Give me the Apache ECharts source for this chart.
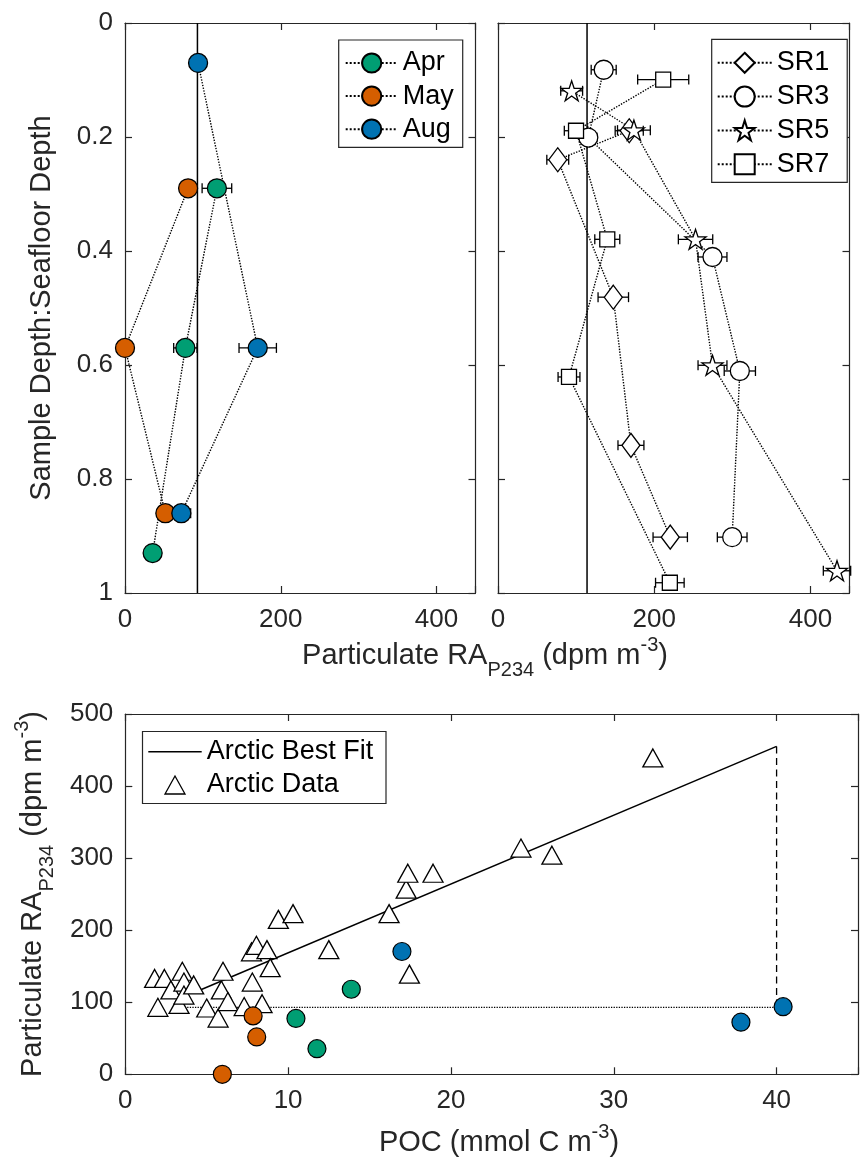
<!DOCTYPE html>
<html>
<head>
<meta charset="utf-8">
<script src="https://cdn.jsdelivr.net/npm/echarts@6/dist/echarts.min.js"></script>
<style>
  html, body { margin: 0; padding: 0; background: #fff; }
  #chart { width: 861px; height: 1159px; }
</style>
</head>
<body>
<div id="chart"></div>
<script>
// ---- Monthly profiles: depth ratio, particulate RA (dpm m^-3), its uncertainty, and POC ----
const aprDepth = [0.29, 0.57, 0.93];
const aprRA    = [118, 77.5, 35.5];
const aprErr   = [19, 15, 0];
const aprPOC   = [13.88, 10.48, 11.77];

const mayDepth = [0.29, 0.57, 0.86];
const mayRA    = [81, 0, 51.8];
const mayErr   = [0, 0, 0];
const mayPOC   = [7.85, 5.96, 8.07];

const augDepth = [0.07, 0.57, 0.86];
const augRA    = [93.8, 170.4, 72.3];
const augErr   = [5, 24, 12];
const augPOC   = [40.4, 16.99, 37.81];

// ---- Station profiles ----
const sr1Depth = [0.189, 0.240, 0.481, 0.741, 0.902];
const sr1RA    = [168, 76.5, 147.6, 170.2, 220.5];
const sr1Err   = [18, 14, 19.5, 16.6, 22];

const sr3Depth = [0.082, 0.201, 0.4105, 0.6105, 0.902];
const sr3RA    = [135.3, 115.6, 274.6, 309.6, 299.8];
const sr3Err   = [16, 11, 18.5, 20, 19];

const sr5Depth = [0.119, 0.188, 0.3795, 0.6005, 0.961];
const sr5RA    = [94.3, 174, 252.9, 274.6, 434];
const sr5Err   = [14, 21, 22, 18.5, 17.5];

const sr7Depth = [0.0993, 0.189, 0.3795, 0.621, 0.982];
const sr7RA    = [211.5, 99.9, 139.9, 90.9, 220];
const sr7Err   = [32.7, 15, 16, 14, 18.3];

// Reference levels
const refMonthRA = 93;     // vertical line, monthly panel
const refStationRA = 114;  // vertical line, station panel
const depthSpan = [0, 1];

// ---- Arctic compilation: POC (mmol C m^-3) vs particulate RA ----
const arcticPOC = [1.8, 2.4, 2.0, 2.8, 3.3, 3.5, 3.6, 3.6, 4.2, 5.0, 5.7, 5.9, 6.0, 6.3, 7.3, 7.8,
                   7.75, 8.05, 8.7, 8.4, 8.9, 9.4, 10.3, 12.5, 16.2, 17.25, 17.35, 18.9, 17.45, 24.3, 26.2, 32.4];
const arcticRA  = [133, 133, 93, 117, 97, 143, 128, 110, 124, 92, 78, 117, 143, 101, 94, 128,
                   170, 179, 173, 98, 148, 215, 223, 173, 223, 257, 279, 279, 139, 314, 304, 439];

const fitPOC = [4.6, 40];
const fitRA  = [117, 455];
const dropPOC = [40, 40];
const dropRA  = [455, refMonthRA];
const levelPOC = [3.8, 40];
const levelRA  = [refMonthRA, refMonthRA];

// ---- Tick values: min, max, interval ----
const raTicksTop = [0, 450, 200];
const depthTicks = [0, 1, 0.2];
const pocTicks = [0, 45, 10];
const raTicksBottom = [0, 500, 100];

// ---- Styling ----
const FONT = "'Liberation Sans', Arial, Helvetica, sans-serif";
const AX = '#262626';
const C_APR = '#009E73', C_MAY = '#D55E00', C_AUG = '#0072B2';

const zip = (xs, ys) => xs.map((v, i) => [v, ys[i]]);
const zip3 = (xs, ys, es) => xs.map((v, i) => [v, ys[i], es[i]]);

function starPath() {
  const pts = [];
  for (let i = 0; i < 10; i++) {
    const r = i % 2 ? 0.382 : 1;
    const a = -Math.PI / 2 + i * Math.PI / 5;
    pts.push((50 + 50 * r * Math.cos(a)).toFixed(2) + ',' + (50 + 50 * r * Math.sin(a)).toFixed(2));
  }
  return 'path://M' + pts.join('L') + 'Z';
}
const STAR = starPath();

function axisBase(grid, t) {
  return {
    type: 'value', gridIndex: grid, min: t[0], max: t[1], interval: t[2],
    axisLine: { show: true, onZero: false, lineStyle: { color: AX, width: 1.2 } },
    axisTick: { show: true, inside: true, length: 7, lineStyle: { color: AX, width: 1.2 } },
    splitLine: { show: false },
    axisPointer: { show: false }
  };
}
function labelStyle(t, margin, show) {
  return {
    show, margin, fontSize: 26, fontFamily: FONT, color: AX,
    formatter: v => (Math.abs(v / t[2] - Math.round(v / t[2])) < 1e-6 ? String(+v.toFixed(2)) : '')
  };
}
function xPair(grid, t, show) {
  return [
    Object.assign(axisBase(grid, t), { position: 'bottom', axisLabel: labelStyle(t, 14, show) }),
    Object.assign(axisBase(grid, t), { position: 'top', axisLabel: { show: false } })
  ];
}
function yPair(grid, t, show, inverse) {
  return [
    Object.assign(axisBase(grid, t), { position: 'left', inverse, axisLabel: labelStyle(t, 12, show) }),
    Object.assign(axisBase(grid, t), { position: 'right', inverse, axisLabel: { show: false } })
  ];
}

// Horizontal error bars with end caps
function errorBars(xi, yi, rows) {
  return {
    type: 'custom', xAxisIndex: xi, yAxisIndex: yi, silent: true, clip: false, z: 2,
    data: rows, encode: { x: 0, y: 1 },
    renderItem(params, api) {
      const x = api.value(0), y = api.value(1), e = api.value(2);
      if (!e) return null;
      const a = api.coord([x - e, y]), b = api.coord([x + e, y]);
      const cap = 5;
      const style = { stroke: '#000', lineWidth: 1.3, fill: null };
      return {
        type: 'group', children: [
          { type: 'line', shape: { x1: a[0], y1: a[1], x2: b[0], y2: b[1] }, style },
          { type: 'line', shape: { x1: a[0], y1: a[1] - cap, x2: a[0], y2: a[1] + cap }, style },
          { type: 'line', shape: { x1: b[0], y1: b[1] - cap, x2: b[0], y2: b[1] + cap }, style }
        ]
      };
    }
  };
}

function profile(name, xi, yi, ra, depth, symbol, size, fill) {
  return {
    name, type: 'line', xAxisIndex: xi, yAxisIndex: yi, z: 3, clip: false,
    data: zip(ra, depth), symbol, symbolSize: size, showSymbol: true,
    itemStyle: { color: fill, borderColor: '#000', borderWidth: 1.3 },
    lineStyle: { color: '#000', width: 1.4, type: 'dotted' },
    emphasis: { disabled: true }, silent: true
  };
}
function refLine(xi, yi, data, type, width) {
  return {
    type: 'line', xAxisIndex: xi, yAxisIndex: yi, data, symbol: 'none', z: 1, clip: false,
    lineStyle: { color: '#000', width, type }, silent: true, emphasis: { disabled: true }
  };
}
function dots(name, ra, poc, color) {
  return {
    name, type: 'scatter', xAxisIndex: 4, yAxisIndex: 4, data: zip(poc, ra), z: 5, clip: false,
    symbol: 'circle', symbolSize: 18,
    itemStyle: { color, borderColor: '#000', borderWidth: 1.2, opacity: 1 },
    silent: true, emphasis: { disabled: true }
  };
}

// Axis titles with sub/superscripts laid out piece by piece
const measureCtx = document.createElement('canvas').getContext('2d');
function textWidth(t, size) {
  measureCtx.font = size + 'px ' + FONT;
  return measureCtx.measureText(t).width;
}
function scriptLabel(cx, cy, pieces, rotate) {
  const widths = pieces.map(p => textWidth(p.t, p.s));
  const total = widths.reduce((a, b) => a + b, 0);
  let x = -total / 2;
  const children = pieces.map((p, i) => {
    const el = {
      type: 'text', x, y: p.dy,
      style: { text: p.t, fontSize: p.s, fontFamily: FONT, fill: AX,
               align: 'left', verticalAlign: 'middle', textAlign: 'left', textVerticalAlign: 'middle' }
    };
    x += widths[i];
    return el;
  });
  return { type: 'group', x: cx, y: cy, rotation: rotate ? Math.PI / 2 : 0, z: 50, children };
}
const MAIN = 29, SMALL = 20, SUB_DY = 14, SUP_DY = -11;
const raTitle = [
  { t: 'Particulate RA', s: MAIN, dy: 0 },
  { t: 'P234', s: SMALL, dy: SUB_DY },
  { t: ' (dpm m', s: MAIN, dy: 0 },
  { t: '-3', s: SMALL, dy: SUP_DY },
  { t: ')', s: MAIN, dy: 0 }
];
const pocTitle = [
  { t: 'POC (mmol C m', s: MAIN, dy: 0 },
  { t: '-3', s: SMALL, dy: SUP_DY },
  { t: ')', s: MAIN, dy: 0 }
];
const depthTitle = [{ t: 'Sample Depth:Seafloor Depth', s: MAIN, dy: 0 }];

const legendCommon = {
  orient: 'vertical', selectedMode: false, itemWidth: 52,
  textStyle: { fontSize: 27, fontFamily: FONT, color: '#000', lineHeight: 27 },
  borderColor: AX, borderWidth: 1.2, backgroundColor: '#fff', borderRadius: 0
};

const chart = echarts.init(document.getElementById('chart'), null, { renderer: 'canvas' });
chart.setOption({
  animation: false,
  backgroundColor: '#fff',
  grid: [
    { left: 125, top: 23, width: 350.5, height: 570 },
    { left: 498, top: 23, width: 351.5, height: 570 },
    { left: 125.3, top: 714, right: -11.3, height: 360.3 }
  ],
  xAxis: [].concat(xPair(0, raTicksTop, true), xPair(1, raTicksTop, true), xPair(2, pocTicks, true)),
  yAxis: [].concat(yPair(0, depthTicks, true, true), yPair(1, depthTicks, false, true), yPair(2, raTicksBottom, true, false)),
  legend: [
    Object.assign({}, legendCommon, {
      data: ['Apr', 'May', 'Aug'], left: 338.7, top: 40, padding: [9.5, 9, 4.6, 6],
      itemHeight: 24, itemGap: 6.1
    }),
    Object.assign({}, legendCommon, {
      data: ['SR1', 'SR3', 'SR5', 'SR7'], left: 711.7, top: 39.3, padding: [10, 18, 4.6, 5],
      itemWidth: 54, itemHeight: 25, itemGap: 6.8
    })
  ],
  series: [
    // monthly panel
    refLine(0, 0, zip([refMonthRA, refMonthRA], depthSpan), 'solid', 1.5),
    errorBars(0, 0, zip3(aprRA, aprDepth, aprErr)),
    errorBars(0, 0, zip3(mayRA, mayDepth, mayErr)),
    errorBars(0, 0, zip3(augRA, augDepth, augErr)),
    profile('Apr', 0, 0, aprRA, aprDepth, 'circle', 19, C_APR),
    profile('May', 0, 0, mayRA, mayDepth, 'circle', 19, C_MAY),
    profile('Aug', 0, 0, augRA, augDepth, 'circle', 19, C_AUG),
    // station panel
    refLine(2, 2, zip([refStationRA, refStationRA], depthSpan), 'solid', 1.5),
    errorBars(2, 2, zip3(sr1RA, sr1Depth, sr1Err)),
    errorBars(2, 2, zip3(sr3RA, sr3Depth, sr3Err)),
    errorBars(2, 2, zip3(sr5RA, sr5Depth, sr5Err)),
    errorBars(2, 2, zip3(sr7RA, sr7Depth, sr7Err)),
    profile('SR1', 2, 2, sr1RA, sr1Depth, 'diamond', [18, 24], '#fff'),
    profile('SR3', 2, 2, sr3RA, sr3Depth, 'circle', 19, '#fff'),
    profile('SR5', 2, 2, sr5RA, sr5Depth, STAR, [21, 20], '#fff'),
    profile('SR7', 2, 2, sr7RA, sr7Depth, 'rect', 15, '#fff'),
    // POC panel
    refLine(4, 4, zip(fitPOC, fitRA), 'solid', 1.5),
    refLine(4, 4, zip(dropPOC, dropRA), [7, 4.5], 1.3),
    refLine(4, 4, zip(levelPOC, levelRA), 'dotted', 1.3),
    {
      name: 'Arctic Data', type: 'scatter', xAxisIndex: 4, yAxisIndex: 4, z: 4, clip: false,
      data: zip(arcticPOC, arcticRA), symbol: 'triangle', symbolSize: [20, 18],
      itemStyle: { color: '#fff', borderColor: '#000', borderWidth: 1.3, opacity: 1 },
      silent: true, emphasis: { disabled: true }
    },
    dots('Apr POC', aprRA, aprPOC, C_APR),
    dots('May POC', mayRA, mayPOC, C_MAY),
    dots('Aug POC', augRA, augPOC, C_AUG)
  ],
  graphic: { elements: [
    scriptLabel(42, 308, depthTitle, true),
    scriptLabel(485, 656, raTitle, false),
    scriptLabel(33, 894, raTitle, true),
    scriptLabel(499, 1143, pocTitle, false),
    // key for the POC panel
    { type: 'rect', z: 100, shape: { x: 142.5, y: 731.5, width: 243.5, height: 72 },
      style: { fill: '#fff', stroke: AX, lineWidth: 1.2 } },
    { type: 'line', z: 101, shape: { x1: 148.3, y1: 751.7, x2: 201.7, y2: 751.7 },
      style: { stroke: '#000', lineWidth: 1.5 } },
    { type: 'polygon', z: 101, shape: { points: [[175, 776], [165, 794], [185, 794]] },
      style: { fill: '#fff', stroke: '#000', lineWidth: 1.3 } },
    { type: 'text', z: 101, x: 206.7, y: 751.7,
      style: { text: 'Arctic Best Fit', fontSize: 27, fontFamily: FONT, fill: '#000',
               align: 'left', verticalAlign: 'middle', textAlign: 'left', textVerticalAlign: 'middle' } },
    { type: 'text', z: 101, x: 206.7, y: 785,
      style: { text: 'Arctic Data', fontSize: 27, fontFamily: FONT, fill: '#000',
               align: 'left', verticalAlign: 'middle', textAlign: 'left', textVerticalAlign: 'middle' } }
  ] }
});
</script>
</body>
</html>
